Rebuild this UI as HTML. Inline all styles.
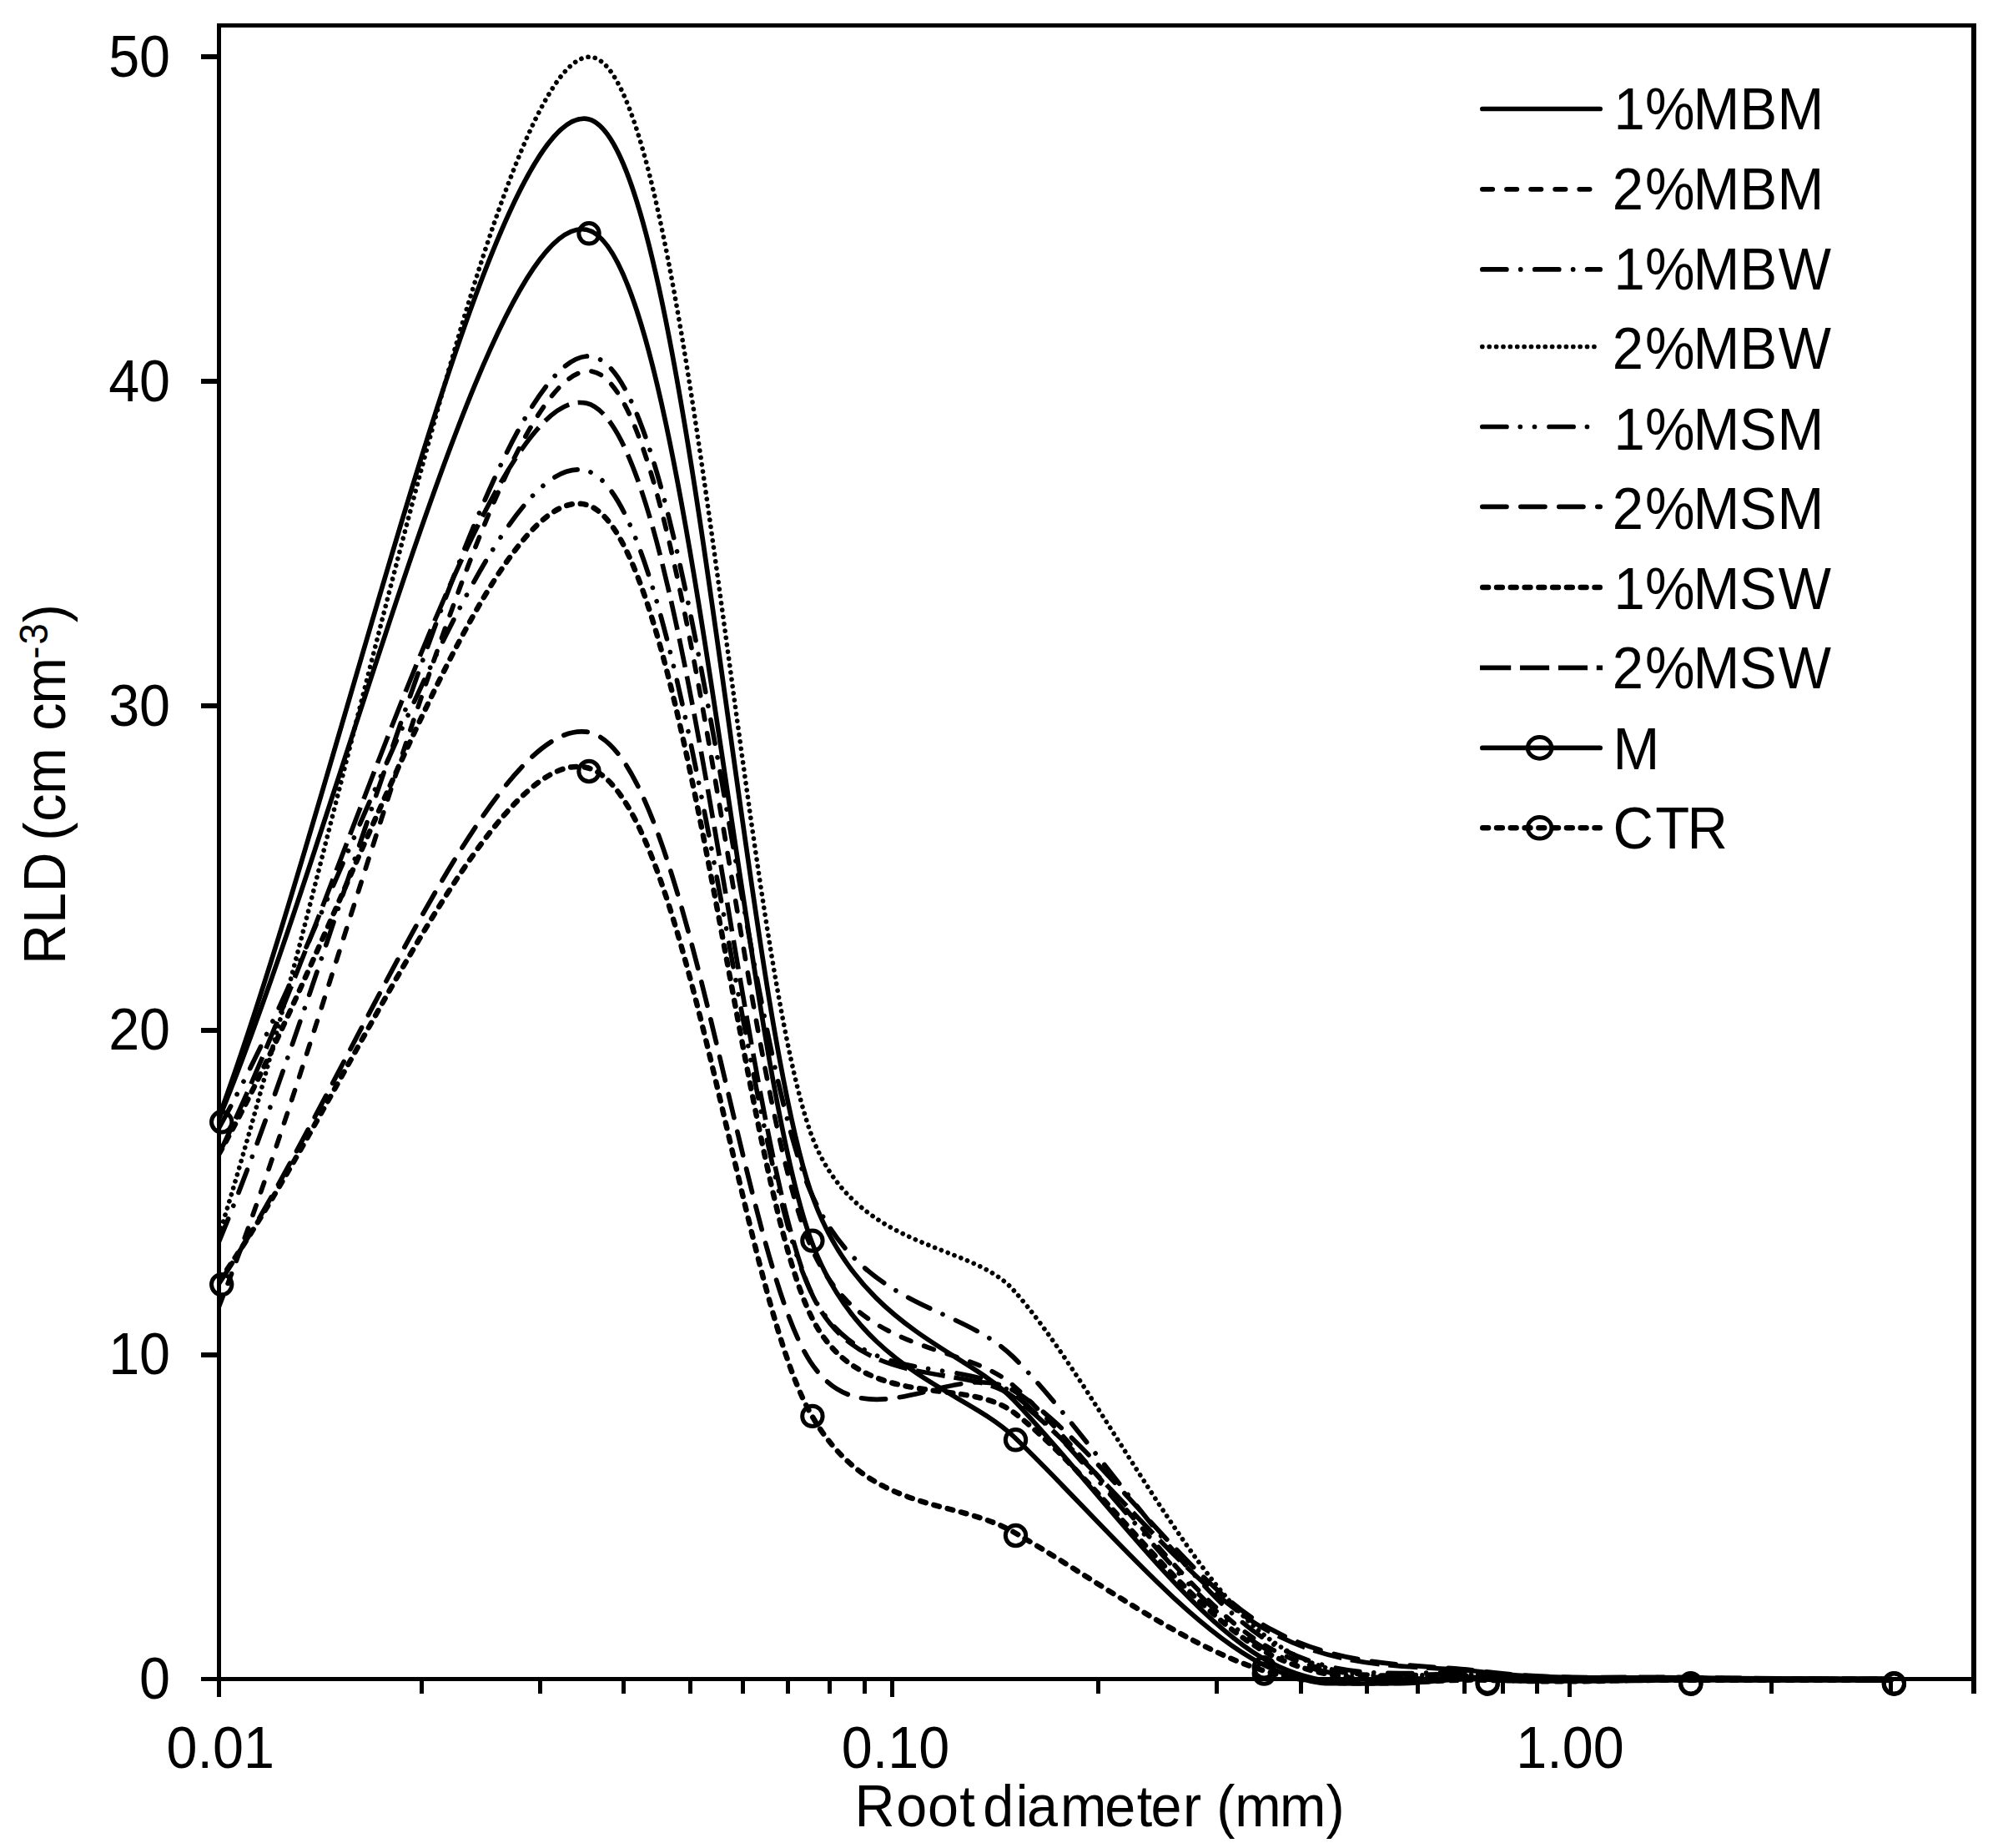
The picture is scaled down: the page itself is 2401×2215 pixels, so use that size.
<!DOCTYPE html><html><head><meta charset="utf-8"><title>RLD vs Root diameter</title>
<style>html,body{margin:0;padding:0;background:#fff}svg{display:block}text{font-family:"Liberation Sans",sans-serif;fill:#000}</style></head><body>
<svg width="2401" height="2215" viewBox="0 0 2401 2215">
<rect width="2401" height="2215" fill="#fff"/>
<defs><clipPath id="plot"><rect x="262.6" y="30.4" width="2103.4" height="1990"/></clipPath></defs>
<g clip-path="url(#plot)" fill="none" stroke="#000" stroke-linejoin="round">
<path d="M262.7,1337.9 C409.5,939.4 585.0,127.8 703.0,142.4 C821.0,157.0 885.6,1169.6 970.9,1425.4 C1026.3,1591.7 1155.9,1616.5 1214.5,1677.4 C1304.7,1770.9 1418.0,1931.3 1512.3,1986.8 C1606.6,2042.4 1694.9,2006.3 1780.2,2010.6 C1865.4,2014.8 1942.6,2012.2 2023.8,2012.5 C2105.0,2012.8 2186.2,2012.5 2267.4,2012.5" stroke-width="5.7" stroke-linecap="round"/>
<path d="M262.7,1565.4 C409.5,1191.9 585.0,457.2 703.0,444.9 C821.0,432.5 885.6,1288.9 970.9,1491.5 C1028.4,1628.2 1153.6,1606.9 1214.5,1660.6 C1304.7,1740.3 1418.0,1911.9 1512.3,1969.7 C1606.6,2027.6 1694.9,2000.9 1780.2,2007.8 C1865.4,2014.8 1942.6,2010.6 2023.8,2011.3 C2105.0,2012.1 2186.2,2012.1 2267.4,2012.5" stroke-width="5.7" stroke-linecap="round" stroke-dasharray="12.4 16.7"/>
<path d="M262.7,1487.6 C409.5,1134.1 585.0,437.1 703.0,427.0 C821.0,416.8 885.6,1226.7 970.9,1426.6 C1032.7,1571.5 1149.1,1561.7 1214.5,1626.4 C1304.7,1715.7 1418.0,1898.6 1512.3,1962.0 C1606.6,2025.3 1694.9,1998.4 1780.2,2006.7 C1865.4,2014.9 1942.6,2010.4 2023.8,2011.3 C2105.0,2012.3 2186.2,2012.1 2267.4,2012.5" stroke-width="5.7" stroke-linecap="round" stroke-dasharray="29 16.9 0.01 17"/>
<path d="M262.7,1479.8 C409.5,1009.4 585.0,89.2 703.0,68.5 C821.0,47.8 885.6,1109.2 970.9,1355.4 C1021.5,1501.6 1161.0,1486.4 1214.5,1545.9 C1304.7,1646.3 1418.0,1880.2 1512.3,1957.3 C1606.6,2034.4 1694.9,1999.4 1780.2,2008.6 C1865.4,2017.8 1942.6,2011.7 2023.8,2012.5 C2105.0,2013.3 2186.2,2013.0 2267.4,2013.3" stroke-width="5.7" stroke-linecap="round" stroke-dasharray="0.01 8.37"/>
<path d="M262.7,1351.5 C409.5,1089.1 585.0,531.8 703.0,564.2 C821.0,596.6 885.6,1361.6 970.9,1545.9 C1028.3,1670.1 1153.7,1622.4 1214.5,1670.4 C1304.7,1741.6 1418.0,1917.1 1512.3,1973.6 C1606.6,2030.1 1694.9,2003.0 1780.2,2009.4 C1865.4,2015.7 1942.6,2011.2 2023.8,2011.7 C2105.0,2012.2 2186.2,2012.2 2267.4,2012.5" stroke-width="5.7" stroke-linecap="round" stroke-dasharray="29.1 16.35 0.01 17.2 0.01 17.5"/>
<path d="M262.7,1538.2 C409.5,1317.8 585.0,861.7 703.0,877.2 C821.0,892.8 885.6,1499.9 970.9,1631.5 C1037.8,1734.7 1143.7,1625.3 1214.5,1666.5 C1304.7,1719.0 1418.0,1890.2 1512.3,1946.4 C1606.6,2002.6 1694.9,1992.9 1780.2,2003.6 C1865.4,2014.2 1942.6,2009.1 2023.8,2010.6 C2105.0,2012.0 2186.2,2011.9 2267.4,2012.5" stroke-width="5.7" stroke-linecap="round" stroke-dasharray="29.1 16.9"/>
<path d="M262.7,1382.6 C409.5,1123.4 585.0,573.0 703.0,605.0 C821.0,637.1 885.6,1393.5 970.9,1574.7 C1028.5,1697.1 1153.6,1647.2 1214.5,1692.5 C1304.7,1759.7 1418.0,1924.2 1512.3,1977.5 C1606.6,2030.8 1694.9,2006.5 1780.2,2012.5 C1865.4,2018.5 1942.6,2013.1 2023.8,2013.3 C2105.0,2013.5 2186.2,2013.5 2267.4,2013.7" stroke-width="6.5" stroke-linecap="round" stroke-dasharray="6.8 9.98"/>
<path d="M262.7,1382.6 C409.5,1082.9 585.0,456.1 703.0,483.3 C821.0,510.6 885.6,1347.5 970.9,1545.9 C1025.2,1672.4 1157.0,1631.3 1214.5,1674.2 C1304.7,1741.6 1418.0,1895.3 1512.3,1950.3 C1606.6,2005.3 1694.9,1994.2 1780.2,2004.3 C1865.4,2014.4 1942.6,2009.6 2023.8,2010.9 C2105.0,2012.3 2186.2,2012.0 2267.4,2012.5" stroke-width="5.6" stroke-linecap="butt" stroke-dasharray="35.1 10.8"/>
<path d="M262.7,1340.3 C409.5,985.3 585.0,251.6 703.0,275.3 C821.0,299.1 885.6,1241.6 970.9,1482.6 C1027.8,1643.3 1154.3,1664.4 1214.5,1721.3 C1304.7,1806.6 1418.0,1945.7 1512.3,1994.2 C1606.6,2042.8 1694.9,2009.3 1780.2,2012.5 C1865.4,2015.7 1942.6,2013.1 2023.8,2013.3 C2105.0,2013.4 2186.2,2013.3 2267.4,2013.3" stroke-width="5.7" stroke-linecap="round"/>
<path d="M262.7,1535.1 C409.5,1330.0 585.0,893.7 703.0,920.0 C821.0,946.3 885.6,1540.2 970.9,1692.9 C1039.8,1816.2 1141.6,1794.4 1214.5,1836.0 C1304.7,1887.4 1418.0,1972.0 1512.3,2001.6 C1606.6,2031.2 1694.9,2011.7 1780.2,2013.7 C1865.4,2015.7 1942.6,2013.7 2023.8,2013.7 C2105.0,2013.7 2186.2,2013.7 2267.4,2013.7" stroke-width="6.5" stroke-linecap="round" stroke-dasharray="6.8 9.98"/>
</g>
<g fill="none" stroke="#000" stroke-width="5">
<circle cx="265.7" cy="1344.8" r="12.2"/>
<circle cx="706.0" cy="279.8" r="12.2"/>
<circle cx="973.9" cy="1487.1" r="12.2"/>
<circle cx="1217.5" cy="1725.8" r="12.2"/>
<circle cx="1515.3" cy="1998.7" r="12.2"/>
<circle cx="1783.2" cy="2017.0" r="12.2"/>
<circle cx="2026.8" cy="2017.8" r="12.2"/>
<circle cx="2270.4" cy="2017.8" r="12.2"/>
<circle cx="265.7" cy="1539.6" r="12.2"/>
<circle cx="706.0" cy="924.5" r="12.2"/>
<circle cx="973.9" cy="1697.4" r="12.2"/>
<circle cx="1217.5" cy="1840.5" r="12.2"/>
<circle cx="1515.3" cy="2006.1" r="12.2"/>
<circle cx="1783.2" cy="2018.2" r="12.2"/>
<circle cx="2026.8" cy="2018.2" r="12.2"/>
<circle cx="2270.4" cy="2018.2" r="12.2"/>
</g>
<g fill="none" stroke="#000" stroke-width="5" stroke-linecap="butt" shape-rendering="crispEdges">
<path d="M241,2012.5 H2366 M262.5,2033.8 V30.5 M260,30.5 H2368.5"/>
<path d="M2366,28 V2030" stroke-width="6"/>
<path d="M241,1624 H262" stroke-width="6"/>
<path d="M241,1235 H262" stroke-width="6"/>
<path d="M241,846 H262" stroke-width="6"/>
<path d="M241,457 H262" stroke-width="6"/>
<path d="M241,68 H262" stroke-width="6"/>
<path d="M505.4,2012 V2030"/>
<path d="M647.4,2012 V2030"/>
<path d="M747.9,2012 V2030"/>
<path d="M827.3,2012 V2030"/>
<path d="M890.5,2012 V2030"/>
<path d="M944.4,2012 V2030"/>
<path d="M994.6,2012 V2030"/>
<path d="M1036.5,2012 V2030"/>
<path d="M1316.3,2012 V2030"/>
<path d="M1458.4,2012 V2030"/>
<path d="M1559,2012 V2030"/>
<path d="M1638.1,2012 V2030"/>
<path d="M1699.3,2012 V2030"/>
<path d="M1755.4,2012 V2030"/>
<path d="M1801.1,2012 V2030"/>
<path d="M1842.8,2012 V2030"/>
<path d="M2123.6,2012 V2030"/>
<path d="M2266,2012 V2030"/>
<path d="M1069.4,2012 V2033.8"/>
<path d="M1881.5,2012 V2033.8"/>
</g>
<g>
<text transform="translate(204.1,2035.9) scale(1,1.045)" font-size="66.5" text-anchor="end">0</text>
<text transform="translate(204.1,1647.1) scale(1,1.045)" font-size="66.5" text-anchor="end">10</text>
<text transform="translate(204.1,1258.3) scale(1,1.045)" font-size="66.5" text-anchor="end">20</text>
<text transform="translate(204.1,869.5) scale(1,1.045)" font-size="66.5" text-anchor="end">30</text>
<text transform="translate(204.1,480.7) scale(1,1.045)" font-size="66.5" text-anchor="end">40</text>
<text transform="translate(204.1,91.9) scale(1,1.045)" font-size="66.5" text-anchor="end">50</text>
<text transform="translate(264.2,2118.9) scale(1,1.045)" font-size="66.5" text-anchor="middle">0.01</text>
<text transform="translate(1073.5,2118.9) scale(1,1.045)" font-size="66.5" text-anchor="middle">0.10</text>
<text transform="translate(1881.9,2118.9) scale(1,1.045)" font-size="66.5" text-anchor="middle">1.00</text>
<text transform="translate(0,2189.1) scale(1,1.045)" font-size="66.5" x="1024.6 1074.2 1112.0 1150.2" y="0">Root</text>
<text transform="translate(0,2189.1) scale(1,1.045)" font-size="66.5" x="1178.3 1217.8 1231.1 1271.1 1324.3 1362.7 1379.4 1418.1" y="0">diameter</text>
<text transform="translate(0,2189.1) scale(1,1.045)" font-size="66.5" x="1458.2 1480.2 1534.1 1589.6" y="0">(mm)</text>
<g transform="translate(77.9,1152) rotate(-90) scale(1,1.045)">
<text font-size="66.5" x="-4.1 44.9 82.6" y="0">RLD</text>
<text font-size="66.5" x="144.3 167.2 200.2" y="0">(cm</text>
<text font-size="66.5" x="276.3 308.4" y="0">cm</text>
<text font-size="45.5" x="362.3 379.6" y="-20.4">-3</text>
<text font-size="66.5" x="405.8" y="0">)</text>
</g>
</g>
<g fill="none" stroke="#000">
<path d="M1776.85,130.5 H1918.15" stroke-width="5.7" stroke-linecap="round"/>
<path d="M1776.85,226.8 H1918.15" stroke-width="5.7" stroke-linecap="round" stroke-dasharray="12.4 16.7"/>
<path d="M1776.85,322.9 H1918.15" stroke-width="5.7" stroke-linecap="round" stroke-dasharray="29 16.9 0.01 17"/>
<path d="M1776.85,415.5 H1918.15" stroke-width="5.7" stroke-linecap="round" stroke-dasharray="0.01 8.37"/>
<path d="M1776.85,511.5 H1918.15" stroke-width="5.7" stroke-linecap="round" stroke-dasharray="29.1 16.35 0.01 17.2 0.01 17.5"/>
<path d="M1776.85,607.3 H1918.15" stroke-width="5.7" stroke-linecap="round" stroke-dasharray="29.1 16.9"/>
<path d="M1777.25,704 H1917.75" stroke-width="6.5" stroke-linecap="round" stroke-dasharray="6.8 9.98"/>
<path d="M1774,800.4 H1921" stroke-width="5.6" stroke-linecap="butt" stroke-dasharray="37.2 10.8 35.1 10.8 35.1 10.8 35.1"/>
<path d="M1776.85,896.4 H1918.15" stroke-width="5.7" stroke-linecap="round"/>
<path d="M1777.25,992.3 H1917.75" stroke-width="6.5" stroke-linecap="round" stroke-dasharray="6.8 9.98"/>
<ellipse cx="1845.6" cy="896.4" rx="14.3" ry="12.8" stroke-width="5"/>
<ellipse cx="1845.6" cy="992.3" rx="14.3" ry="12.8" stroke-width="5"/>
</g>
<g>
<text transform="translate(0,155.1) scale(1,1.045)" font-size="67" x="1934.6 1972.1 2029.5 2085.4 2130.6" y="0">1%MBM</text>
<text transform="translate(0,251.4) scale(1,1.045)" font-size="67" x="1932.8 1972.1 2029.5 2085.4 2130.6" y="0">2%MBM</text>
<text transform="translate(0,346.6) scale(1,1.045)" font-size="67" x="1934.6 1972.1 2029.5 2085.4 2131.7" y="0">1%MBW</text>
<text transform="translate(0,441.7) scale(1,1.045)" font-size="67" x="1932.8 1972.1 2029.5 2085.4 2131.7" y="0">2%MBW</text>
<text transform="translate(0,538.8) scale(1,1.045)" font-size="67" x="1934.6 1972.1 2029.5 2084.9 2130.6" y="0">1%MSM</text>
<text transform="translate(0,633.9) scale(1,1.045)" font-size="67" x="1932.8 1972.1 2029.5 2084.9 2130.6" y="0">2%MSM</text>
<text transform="translate(0,729.6) scale(1,1.045)" font-size="67" x="1934.6 1972.1 2029.5 2084.9 2131.7" y="0">1%MSW</text>
<text transform="translate(0,825.4) scale(1,1.045)" font-size="67" x="1932.8 1972.1 2029.5 2084.9 2131.7" y="0">2%MSW</text>
<text transform="translate(0,921.6) scale(1,1.045)" font-size="67" x="1933.4" y="0">M</text>
<text transform="translate(0,1016.7) scale(1,1.045)" font-size="67" x="1933.4 1984.3 2022.6" y="0">CTR</text>
</g>
</svg></body></html>
